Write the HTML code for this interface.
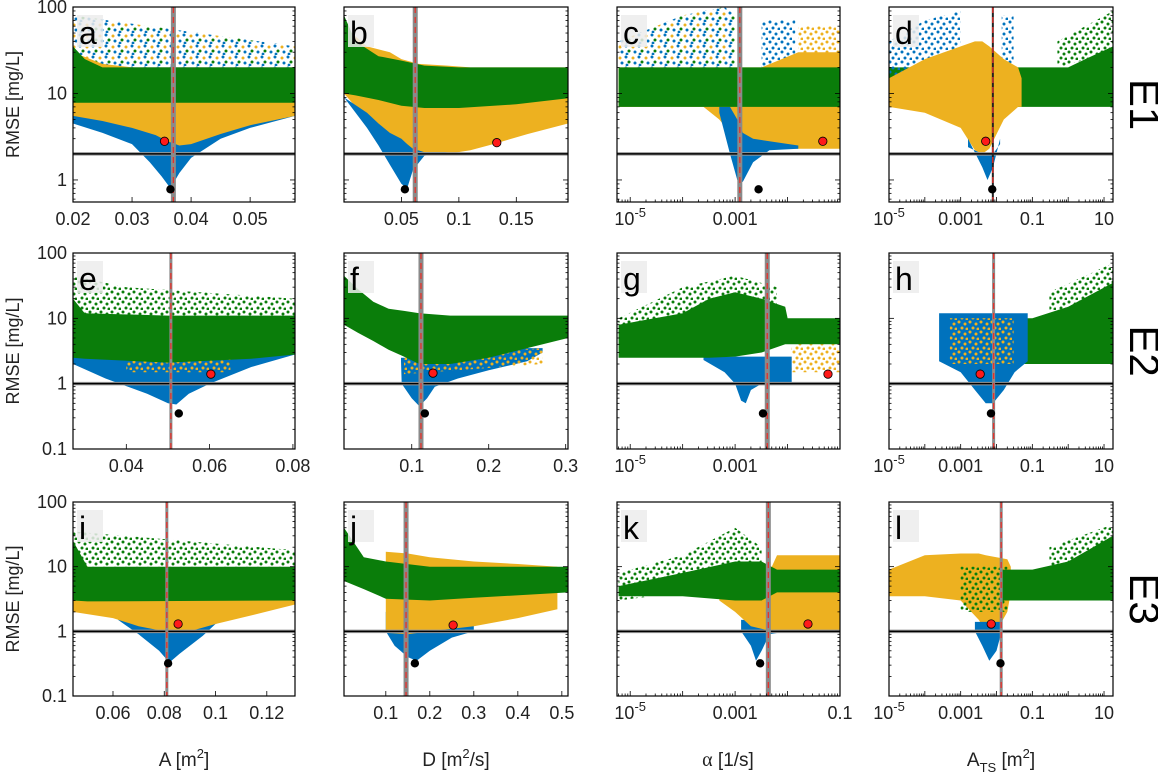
<!DOCTYPE html>
<html><head><meta charset="utf-8"><style>
body{margin:0;background:#fff;}
svg{display:block;font-family:"Liberation Sans",sans-serif;}
</style></head><body>
<svg id="fig" width="1158" height="780" viewBox="0 0 1158 780" xmlns="http://www.w3.org/2000/svg">
<defs>
<pattern id="pt-blue" width="12" height="10" patternUnits="userSpaceOnUse"><circle cx="2" cy="2" r="1.5" fill="#0072BD"/><circle cx="8" cy="4" r="1.5" fill="#0072BD"/><circle cx="5" cy="8" r="1.5" fill="#0072BD"/><circle cx="11" cy="9" r="1.5" fill="#0072BD"/></pattern>
<pattern id="pt-yellow" width="11" height="10" patternUnits="userSpaceOnUse"><circle cx="2" cy="2" r="1.5" fill="#EDB120"/><circle cx="8" cy="4" r="1.5" fill="#EDB120"/><circle cx="5" cy="8" r="1.5" fill="#EDB120"/><circle cx="10" cy="9" r="1.5" fill="#EDB120"/></pattern>
<pattern id="pt-green" width="11" height="10" patternUnits="userSpaceOnUse"><circle cx="2" cy="2" r="1.5" fill="#0a7d0a"/><circle cx="8" cy="4" r="1.5" fill="#0a7d0a"/><circle cx="5" cy="8" r="1.5" fill="#0a7d0a"/><circle cx="10" cy="9" r="1.5" fill="#0a7d0a"/></pattern>
<pattern id="pt-mixed" width="13" height="11" patternUnits="userSpaceOnUse"><circle cx="2" cy="2" r="1.5" fill="#0072BD"/><circle cx="9" cy="3" r="1.5" fill="#EDB120"/><circle cx="5" cy="7" r="1.5" fill="#0a7d0a"/><circle cx="11" cy="8" r="1.5" fill="#0072BD"/><circle cx="3" cy="10" r="1.4" fill="#0072BD"/></pattern>
</defs>
</svg>
<script>
// ---------- data arrays ----------
// panel a
const aBlueSX=[0.02,0.0576], aBlueSLo=[20,20], aBlueSHi=[80,35];
const aBlueX=[0.02,0.025,0.03,0.033,0.035,0.0365,0.038,0.04,0.045,0.05,0.0576], aBlueLo=[4.5,3.5,2.6,1.6,1.1,0.8,1.2,1.8,3.0,4.0,5.5], aBlueHi=[20,20,20,20,20,20,20,20,20,20,20];
const aYelX=[0.02,0.025,0.03,0.034,0.036,0.038,0.04,0.045,0.05,0.0576], aYelLo=[5.5,4.8,4.0,3.3,2.8,2.5,2.6,3.4,4.3,5.5], aYelHi=[30,22,20,20,20,20,20,20,20,20];
const aGrnX=[0.02,0.022,0.025,0.0576], aGrnLo=[7.8,7.8,7.8,7.8], aGrnHi=[35,25,20,20];
// panel b
const bYelX=[0,0.02,0.04,0.05,0.065,0.09,0.11,0.13,0.16,0.195], bYelLo=[10,5,3.2,2.6,2.1,2.0,2.2,2.6,3.4,4.5], bYelHi=[60,35,30,25,22,21,20,20,20,20];
const bBlueX=[0,0.02,0.03,0.04,0.05,0.055,0.06,0.07,0.09], bBlueLo=[9,4,2.5,1.5,0.9,0.8,1.3,1.9,2.1], bBlueHi=[9,6,4.5,3.5,3,2.6,2.3,2.1,2.1];
const bGrnX=[0,0.01,0.03,0.05,0.07,0.1,0.15,0.195], bGrnLo=[10,9.5,8.4,7.2,6.8,6.8,7.5,8.8], bGrnHi=[80,40,27,24,21,20,20,20];
// panel c
const cMixSX=[6e-6,1e-4,6.3e-4,1e-3], cMixSLo=[20,20,20,20], cMixSHi=[40,80,100,80];
const cBlueSX=[3.2e-3,0.014], cBlueSLo=[20,20], cBlueSHi=[70,70];
const cYelSX=[0.016,0.1], cYelSLo=[15,15], cYelSHi=[60,60];
const cYelX=[6e-6,2.5e-4,5e-4,1e-3,1.3e-3,3.2e-3,0.016,0.1], cYelLo=[7,7,5,3,2.2,2.3,2.3,2.3], cYelHi=[20,20,20,20,20,20,30,30];
const cBlueX=[5e-4,8e-4,1.1e-3,1.4e-3,2.2e-3,4.5e-3,0.016], cBlueLo=[6,2,1.0,0.95,1.6,2.2,2.3], cBlueHi=[7,7,5,3.5,3,2.8,2.5];
const cGrnX=[6e-6,0.1], cGrnLo=[7,7], cGrnHi=[20,20];
// panel d
const dGrnX=[1e-5,0.016,1,3,17.8], dGrnLo=[7,7,7,7,7], dGrnHi=[20,20,20,25,35];
const dGrnSX=[0.5,17.8], dGrnSLo=[20,30], dGrnSHi=[40,90];
const dBlueS1X=[1e-5,1e-4,1e-3], dBlueS1Lo=[15,15,20], dBlueS1Hi=[40,70,90];
const dBlueS2X=[0.014,0.03], dBlueS2Lo=[20,20], dBlueS2Hi=[80,80];
const dYelX=[1e-5,1e-4,1e-3,2.5e-3,4e-3,6.3e-3,0.016,0.04,0.05], dYelLo=[7,6,4,2.2,2.0,2.3,5,7,7], dYelHi=[15,25,35,40,40,35,25,20,15];
const dBlueX=[1.6e-3,4e-3,5.6e-3,8e-3,0.0126], dBlueLo=[3,1.4,1.0,1.4,3], dBlueHi=[2.4,2.0,2.0,2.0,2.6];
// panel e
const eBlueX=[0.0272,0.035,0.045,0.05,0.052,0.055,0.06,0.07,0.0805], eBlueLo=[2.0,1.2,0.7,0.5,0.48,0.7,1.0,1.8,2.8], eBlueHi=[5,5,5,5,5,5,5,5,5];
const eYelSX=[0.04,0.065], eYelSLo=[1.5,1.5], eYelSHi=[2.4,2.4];
const eGrnX=[0.0272,0.03,0.05,0.07,0.0805], eGrnLo=[2.5,2.4,2.1,2.4,2.8], eGrnHi=[20,12,11,11,11];
const eGrnSX=[0.0272,0.04,0.0805], eGrnSLo=[11,11,11], eGrnSHi=[45,30,20];
// panel f
const fBlueX=[0.086,0.087,0.1,0.11,0.12,0.13,0.16,0.2,0.25,0.27], fBlueLo=[2.2,1.0,0.6,0.45,0.6,0.9,1.2,1.6,2.2,3], fBlueHi=[2.5,2.5,2.5,2.5,2.5,2.5,2.5,2.8,3.5,3.5];
const fYelSX=[0.09,0.27], fYelSLo=[1.4,2], fYelSHi=[2.5,3.5];
const fGrnX=[0.012,0.03,0.05,0.07,0.09,0.11,0.15,0.2,0.25,0.303], fGrnLo=[8,6,4.5,3.3,2.6,2.0,2.0,2.5,3.5,5], fGrnHi=[45,28,18,14,13,12,11,11,11,11];
// panel g
const gBlueX=[2.5e-4,6.3e-4,1e-3,1.3e-3,1.6e-3,2e-3,3.2e-3,0.012], gBlueLo=[2.3,1.5,1.0,0.55,0.5,0.8,1.0,1.0], gBlueHi=[2.6,2.6,2.6,2.6,2.6,2.6,2.6,2.6];
const gYelSX=[0.012,0.1], gYelSLo=[1.5,1.5], gYelSHi=[5,5];
const gGrnSX=[6e-6,1e-4,1e-3,6.3e-3], gGrnSLo=[6,10,15,15], gGrnSHi=[10,30,45,30];
const gGrnX=[6e-6,1e-4,3.2e-4,1e-3,3.2e-3,9e-3,0.01,0.1], gGrnLo=[2.5,2.5,2.5,2.6,3,4,4,4], gGrnHi=[8,12,20,25,20,15,10,10];
// panel h
const hGrnX=[0.008,0.1,1,17.8], hGrnLo=[2,2,2,2], hGrnHi=[10,10,15,35];
const hBlueX=[2.5e-4,1e-3,2.5e-3,5e-3,8e-3,0.016,0.032,0.074], hBlueLo=[2.2,1.5,0.8,0.5,0.5,0.8,1.5,2.2], hBlueHi=[12,12,12,12,12,12,12,12];
const hYelSX=[5e-4,0.03], hYelSLo=[2,2], hYelSHi=[10,10];
const hGrnSX=[0.3,17.8], hGrnSLo=[10,20], hGrnSHi=[25,70];
// panel i
const iBlueX=[0.062,0.07,0.078,0.082,0.086,0.095,0.1,0.104], iBlueLo=[1.5,0.9,0.5,0.33,0.45,0.85,1.3,1.5], iBlueHi=[2,2,2,2,2,2,2,2];
const iYelX=[0.0444,0.06,0.07,0.08,0.09,0.1,0.115,0.131], iYelLo=[2.0,1.6,1.2,1.0,1.0,1.3,1.8,2.6], iYelHi=[15,5,4,4,4,4,4,4];
const iGrnX=[0.0444,0.05,0.131], iGrnLo=[3,2.9,3], iGrnHi=[25,10,10];
const iGrnSX=[0.0444,0.131], iGrnSLo=[10,10], iGrnSHi=[35,18];
// panel j
const jBlueX=[0.1,0.12,0.15,0.17,0.2,0.25,0.3], jBlueLo=[1.0,0.6,0.4,0.35,0.5,0.8,1.0], jBlueHi=[2,2,2,2,2,2,2];
const jYelX=[0.1,0.15,0.2,0.3,0.4,0.49], jYelLo=[0.95,0.9,1.0,1.2,1.6,2.2], jYelHi=[17,16,14,12,11,10];
const jGrnX=[0.005,0.05,0.1,0.2,0.3,0.514], jGrnLo=[6,4.5,3.2,3,3.3,4], jGrnHi=[40,14,12,10,10,10];
// panel k
const kBlueX=[1.3e-3,2e-3,2.5e-3,3.2e-3,4.5e-3,0.01], kBlueLo=[1.0,0.6,0.35,0.5,0.9,1.0], kBlueHi=[1.5,1.5,1.5,1.5,1.5,1.5];
const kYelX=[5e-4,1e-3,2e-3,5e-3,6.3e-3,0.1], kYelLo=[3,2,1.2,1.0,1.0,1.0], kYelHi=[4,4,4,10,15,15];
const kGrnSX=[6e-6,1e-4,1e-3,3.2e-3], kGrnSLo=[3,4,8,8], kGrnSHi=[8,15,40,20];
const kGrnX=[6e-6,1e-4,1e-3,3.2e-3,6.3e-3,0.1], kGrnLo=[3.5,3.5,3,3,4,4], kGrnHi=[5,8,12,12,9,9];
// panel l
const lYelX=[1e-5,1e-4,1e-3,3.2e-3,5e-3,0.01,0.02,0.025], lYelLo=[3.5,3.5,3,1.5,1.0,1.0,2,4], lYelHi=[9,15,16,16,15,14,13,10];
const lBlueX=[2.5e-3,4e-3,6.3e-3,0.01,0.014], lBlueLo=[1.0,0.6,0.35,0.5,1.0], lBlueHi=[1.4,1.4,1.4,1.4,1.4];
const lGrnX=[0.0126,0.1,1,17.8], lGrnLo=[3,3,3,3], lGrnHi=[9,9,12,30];
const lGrnSX=[0.3,17.8], lGrnSLo=[9,15], lGrnSHi=[20,45];
const lGrnS2X=[1e-3,0.02], lGrnS2Lo=[2,2], lGrnS2Hi=[10,10];
// markers: [x, rmse]
const redPts=[[0.0355,2.8],[0.133,2.7],[0.047,2.8],[0.005,2.8],[0.0603,1.4],[0.1276,1.45],[0.059,1.4],[0.0035,1.4],[0.0854,1.3],[0.253,1.25],[0.0245,1.3],[0.0071,1.3]];
const blackPts=[[0.0365,0.78],[0.053,0.78],[0.0028,0.78],[0.0076,0.78],[0.0526,0.35],[0.117,0.35],[0.0034,0.35],[0.007,0.35],[0.0815,0.32],[0.166,0.32],[0.003,0.32],[0.0129,0.32]];
const vlines=[0.037,0.062,0.00123,0.0079,0.0507,0.112,0.0041,0.0083,0.081,0.146,0.0043,0.0135];
const thresholds=[2,1,1];
const letters=['a','b','c','d','e','f','g','h','i','j','k','l'];
const xTicksA=[0.02,0.03,0.04,0.05], xTicksB=[0.05,0.1,0.15], xTicksE=[0.04,0.06,0.08], xTicksF=[0.1,0.2,0.3];
const xTicksI=[0.06,0.08,0.1,0.12], xTicksJ=[0.1,0.2,0.3,0.4,0.5];
const xTicksLog3=[1e-5,1e-3], xTicksLog3k=[1e-5,1e-3,0.1], xTicksLog4=[1e-5,1e-3,0.1,10];
const yTicksRow1=[1,10,100], yTicksRow23=[0.1,1,10,100];
const rowLabels=['E1','E2','E3'];

// ---------- layout (style, not data) ----------
const colL=[73,344,617,889], colW=[222,224,223,224];
const rowT=[7,253,502], rowH=[195,196,194];
const C={blue:'#0072BD',yellow:'#EDB120',green:'#0a7d0a'};
const S={blue:'url(#pt-blue)',yellow:'url(#pt-yellow)',green:'url(#pt-green)',mixed:'url(#pt-mixed)'};

const panels=[
 {log:false,xmin:0.02,xmax:0.0576,ticks:xTicksA,bands:[['mixed',aBlueSX,aBlueSLo,aBlueSHi,1],['blue',aBlueX,aBlueLo,aBlueHi],['yellow',aYelX,aYelLo,aYelHi],['green',aGrnX,aGrnLo,aGrnHi]]},
 {log:false,xmin:0,xmax:0.195,ticks:xTicksB,bands:[['yellow',bYelX,bYelLo,bYelHi],['blue',bBlueX,bBlueLo,bBlueHi],['green',bGrnX,bGrnLo,bGrnHi]]},
 {log:true,xmin:5.6e-6,xmax:0.1,ticks:xTicksLog3,bands:[['mixed',cMixSX,cMixSLo,cMixSHi,1],['blue',cBlueSX,cBlueSLo,cBlueSHi,1],['yellow',cYelSX,cYelSLo,cYelSHi,1],['yellow',cYelX,cYelLo,cYelHi],['blue',cBlueX,cBlueLo,cBlueHi],['green',cGrnX,cGrnLo,cGrnHi]]},
 {log:true,xmin:1e-5,xmax:17.8,ticks:xTicksLog4,dark:1,bands:[['green',dGrnX,dGrnLo,dGrnHi],['green',dGrnSX,dGrnSLo,dGrnSHi,1],['blue',dBlueS1X,dBlueS1Lo,dBlueS1Hi,1],['blue',dBlueS2X,dBlueS2Lo,dBlueS2Hi,1],['yellow',dYelX,dYelLo,dYelHi],['blue',dBlueX,dBlueLo,dBlueHi]]},
 {log:false,xmin:0.0272,xmax:0.0805,ticks:xTicksE,bands:[['blue',eBlueX,eBlueLo,eBlueHi],['yellow',eYelSX,eYelSLo,eYelSHi,1],['green',eGrnX,eGrnLo,eGrnHi],['green',eGrnSX,eGrnSLo,eGrnSHi,1]]},
 {log:false,xmin:0.012,xmax:0.303,ticks:xTicksF,bands:[['blue',fBlueX,fBlueLo,fBlueHi],['yellow',fYelSX,fYelSLo,fYelSHi,1],['green',fGrnX,fGrnLo,fGrnHi]]},
 {log:true,xmin:5.6e-6,xmax:0.1,ticks:xTicksLog3,bands:[['blue',gBlueX,gBlueLo,gBlueHi],['yellow',gYelSX,gYelSLo,gYelSHi,1],['green',gGrnSX,gGrnSLo,gGrnSHi,1],['green',gGrnX,gGrnLo,gGrnHi]]},
 {log:true,xmin:1e-5,xmax:17.8,ticks:xTicksLog4,bands:[['green',hGrnX,hGrnLo,hGrnHi],['blue',hBlueX,hBlueLo,hBlueHi],['yellow',hYelSX,hYelSLo,hYelSHi,1],['green',hGrnSX,hGrnSLo,hGrnSHi,1]]},
 {log:false,xmin:0.0444,xmax:0.131,ticks:xTicksI,bands:[['blue',iBlueX,iBlueLo,iBlueHi],['yellow',iYelX,iYelLo,iYelHi],['green',iGrnX,iGrnLo,iGrnHi],['green',iGrnSX,iGrnSLo,iGrnSHi,1]]},
 {log:false,xmin:0.005,xmax:0.514,ticks:xTicksJ,bands:[['blue',jBlueX,jBlueLo,jBlueHi],['yellow',jYelX,jYelLo,jYelHi],['green',jGrnX,jGrnLo,jGrnHi]]},
 {log:true,xmin:5.6e-6,xmax:0.1,ticks:xTicksLog3k,bands:[['blue',kBlueX,kBlueLo,kBlueHi],['yellow',kYelX,kYelLo,kYelHi],['green',kGrnSX,kGrnSLo,kGrnSHi,1],['green',kGrnX,kGrnLo,kGrnHi]]},
 {log:true,xmin:1e-5,xmax:17.8,ticks:xTicksLog4,bands:[['yellow',lYelX,lYelLo,lYelHi],['green',lGrnS2X,lGrnS2Lo,lGrnS2Hi,1],['blue',lBlueX,lBlueLo,lBlueHi],['green',lGrnX,lGrnLo,lGrnHi],['green',lGrnSX,lGrnSLo,lGrnSHi,1]]}
];

const NS='http://www.w3.org/2000/svg';
const svg=document.getElementById('fig');
function mk(tag,attrs,parent){const e=document.createElementNS(NS,tag);for(const k in attrs)e.setAttribute(k,attrs[k]);(parent||svg).appendChild(e);return e;}

panels.forEach((p,i)=>{
 const col=i%4,row=Math.floor(i/4);
 const L=colL[col],W=colW[col],T=rowT[row],H=rowH[row];
 const ymin=row===0?0.556:0.1,ymax=100;
 const xs=v=>p.log? L+(Math.log10(v)-Math.log10(p.xmin))/(Math.log10(p.xmax)-Math.log10(p.xmin))*W : L+(v-p.xmin)/(p.xmax-p.xmin)*W;
 const ys=v=>T+H-(Math.log10(v)-Math.log10(ymin))/(Math.log10(ymax)-Math.log10(ymin))*H;
 const g=mk('g',{});
 
 
 const cp=mk('clipPath',{id:'clip'+i},g);
 mk('rect',{x:L,y:T,width:W,height:H},cp);
 const pg=mk('g',{'clip-path':'url(#clip'+i+')'},g);
 p.bands.forEach(b=>{
  const [color,X,LO,HI,sparse]=b;
  const pts=[];
  X.forEach((x,k)=>pts.push(xs(x).toFixed(1)+','+ys(LO[k]).toFixed(1)));
  for(let k=X.length-1;k>=0;k--)pts.push(xs(X[k]).toFixed(1)+','+ys(HI[k]).toFixed(1));
  const poly=mk('polygon',{points:pts.join(' '),fill:sparse?S[color]:C[color]},pg);
  
  
 });
 const ty=ys(thresholds[row]);
 mk('line',{x1:L,x2:L+W,y1:ty,y2:ty,stroke:'#999',"stroke-width":3.5},pg);
 const tl=mk('line',{x1:L,x2:L+W,y1:ty,y2:ty,stroke:'#000',"stroke-width":1.5},pg);
 
 
 const vx=xs(vlines[i]);
 if(p.dark){mk('line',{x1:vx,x2:vx,y1:T,y2:T+H,stroke:'#222',"stroke-width":2},pg);}
 else{mk('line',{x1:vx,x2:vx,y1:T,y2:T+H,stroke:'#8a8a8a',"stroke-width":(col===3||i===4||i===8)?3:5},pg);}
 const vl=mk('line',{x1:vx,x2:vx,y1:T,y2:T+H,stroke:'#e8302a',"stroke-width":1.3,"stroke-dasharray":"6,4"},pg);
 
 
 const rp=mk('circle',{cx:xs(redPts[i][0]),cy:ys(redPts[i][1]),r:4.2,fill:'#ff1a1a',stroke:'#000',"stroke-width":0.8},pg);
 
 
 const bp=mk('circle',{cx:xs(blackPts[i][0]),cy:ys(blackPts[i][1]),r:4.2,fill:'#000'},pg);
 
 
 mk('rect',{x:L+4,y:T+8,width:26,height:32,fill:'rgba(236,236,236,0.85)'},g);
 const lt=mk('text',{x:L+6,y:T+37,"font-size":32,fill:'#000'},g);
 lt.textContent=letters[i];
 
 
 mk('rect',{x:L,y:T,width:W,height:H,fill:'none',stroke:'#000',"stroke-width":1.2},g);
 const yt=row===0?yTicksRow1:yTicksRow23;
 for(let d=-2;d<=2;d++)for(let m=1;m<10;m++){const v=m*Math.pow(10,d);if(v<ymin||v>ymax)continue;const yy=ys(v);const len=m===1?5:2.5;mk('line',{x1:L,x2:L+len,y1:yy,y2:yy,stroke:'#000',"stroke-width":0.8},g);mk('line',{x1:L+W,x2:L+W-len,y1:yy,y2:yy,stroke:'#000',"stroke-width":0.8},g);}
 if(col===0){yt.forEach(v=>{const t=mk('text',{x:L-6,y:ys(v)+6,"font-size":18,"text-anchor":"end",fill:'#222'},g);t.textContent=String(v);});}
 if(p.log){const a=Math.floor(Math.log10(p.xmin)),b=Math.ceil(Math.log10(p.xmax));for(let d=a;d<=b;d++)for(let m=1;m<10;m++){const v=m*Math.pow(10,d);if(v<p.xmin||v>p.xmax)continue;const xx=xs(v);const len=m===1?5:2.5;mk('line',{x1:xx,x2:xx,y1:T+H,y2:T+H-len,stroke:'#000',"stroke-width":0.8},g);}}
 p.ticks.forEach(v=>{const xx=xs(v);if(!p.log)mk('line',{x1:xx,x2:xx,y1:T+H,y2:T+H-5,stroke:'#000',"stroke-width":0.8},g);
  const t=mk('text',{x:xx,y:T+H+23,"font-size":18,"text-anchor":"middle",fill:'#222'},g);
  if(v===1e-5){t.textContent='10';const s=mk('tspan',{dy:-8,"font-size":13},t);s.textContent='-5';}
  else t.textContent=String(v);
  });
 if(col===0){const cy=T+H/2;const yl=mk('text',{x:0,y:0,"font-size":18,"text-anchor":"middle",fill:'#222',transform:`translate(19,${cy}) rotate(-90)`},g);yl.textContent='RMSE [mg/L]';}
 if(col===3){const rl=mk('text',{x:0,y:0,"font-size":42,"text-anchor":"middle",fill:'#000',transform:`translate(1130,${T+H/2}) rotate(90)`},g);rl.textContent=rowLabels[row];}
});
function title(cx,parts,name){const t=mk('text',{x:cx,y:766,"font-size":18,"text-anchor":"middle",fill:'#222'});parts.forEach(([s,dy,fs,fam])=>{const sp=mk('tspan',{dy:dy,"font-size":fs},t);if(fam)sp.setAttribute('font-family',fam);sp.textContent=s;});}
title(184,[['A [m',0,19],['2',-8,13],[']',8,19]],'x-axis-title-a');
title(456,[['D [m',0,19],['2',-8,13],['/s]',8,19]],'x-axis-title-d');
title(728,[['α',0,20,'"Liberation Serif",serif'],[' [1/s]',0,19]],'x-axis-title-alpha');
title(1001,[['A',0,19],['TS',6,13],[' [m',-6,19],['2',-8,13],[']',8,19]],'x-axis-title-ats');
</script>
</body></html>
